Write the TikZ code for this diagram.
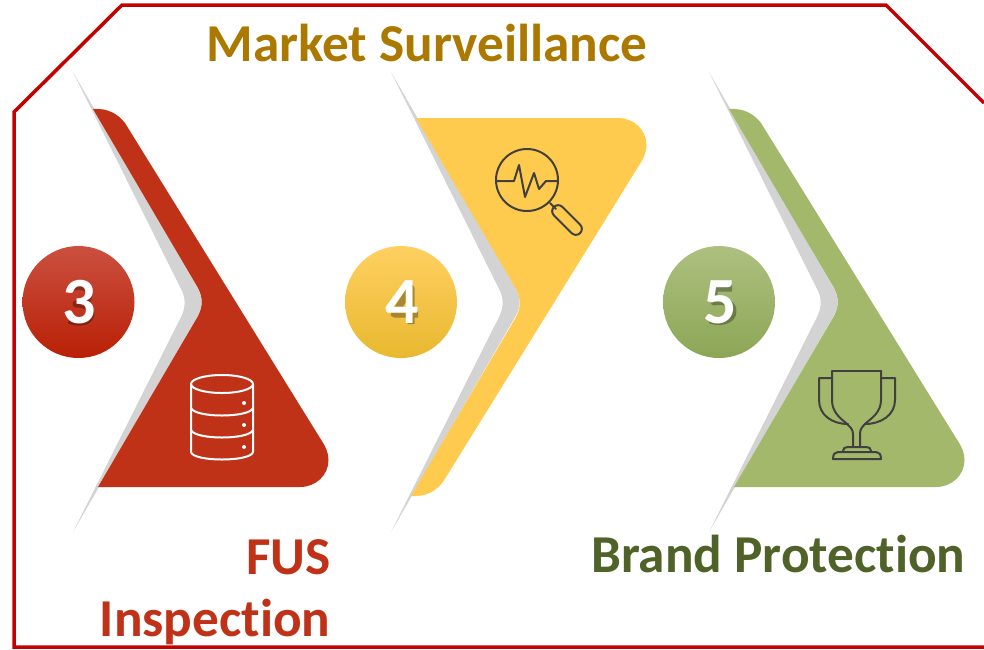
\documentclass[tikz,border=0pt]{standalone}
\usepackage{fontspec}
\setmainfont[Ligatures=NoCommon]{Carlito}
\usetikzlibrary{positioning}
\definecolor{frameRed}{HTML}{C60000}
\definecolor{panelRed}{HTML}{C03218}
\definecolor{panelYellow}{HTML}{FFCB4E}
\definecolor{panelGreen}{HTML}{A4B86C}
\definecolor{chevGray}{HTML}{D3D3D3}
\definecolor{iconGray}{HTML}{404040}
\definecolor{titleGold}{HTML}{AB7800}
\definecolor{titleGreen}{HTML}{4F6228}
\definecolor{redTop}{HTML}{CB5040}
\definecolor{redMid}{HTML}{C8270B}
\definecolor{redLow}{HTML}{B92006}
\definecolor{yellowTop}{HTML}{FFD060}
\definecolor{yellowMid}{HTML}{FDCB40}
\definecolor{yellowLow}{HTML}{E8B830}
\definecolor{greenTop}{HTML}{AEC080}
\definecolor{greenMid}{HTML}{A6BF68}
\definecolor{greenLow}{HTML}{8CA655}
\tikzset{
  every picture/.style={line width=1pt},
  title/.style={font=\bfseries\fontsize{53.3}{60}\selectfont,anchor=base east,inner sep=0pt},
  digit/.style={font=\bfseries\fontsize{66}{70}\selectfont,text=white,inner sep=0pt},
  digitshadow/.style={black,opacity=0.3,line width=7pt,line join=round,shift={(2,2)}},
  badge/.style={circle,minimum size=112pt,inner sep=0pt},
  iconline/.style={line width=2pt,line join=round,line cap=round},
  panel/.pic={
    \fill[pic actions] (93,109) .. controls (108,108) and (118,114) .. (125,123) -- (320,438)
      .. controls (326,447) and (328.5,453) .. (328.5,460) .. controls (328.5,475) and (316,487) .. (300,487)
      -- (98,487) -- (198,316) .. controls (203,306) and (203,298) .. (198,288) -- cycle;
  }
}
\begin{document}
\begin{tikzpicture}[x=1pt,y=-1pt]
\useasboundingbox (0,0) rectangle (984,649);
\draw[frameRed,line width=3.5pt,line join=miter] (984,647) -- (14,647) -- (14,112) -- (122,5) -- (886,5) -- (984,103);
\foreach \x in {0, 318, 636} {
\fill[chevGray,xshift=\x pt] (73,72) -- (197,287) .. controls (203,297) and (203,307) .. (197,317) -- (73,532)
  -- (181,317) .. controls (186,307) and (186,297) .. (180,287) -- cycle;
}
\pic[panelRed] at (0,0) {panel};
\pic[panelYellow,yscale=-1] at (318,605) {panel};
\pic[panelGreen] at (636,0) {panel};

% badges
\node (badge3) at (78.5,302) [badge,top color=redTop,middle color=redMid,bottom color=redLow] {};
\node (badge4) at (401,302) [badge,top color=yellowTop,middle color=yellowMid,bottom color=yellowLow] {};
\node (badge5) at (719,302) [badge,top color=greenTop,middle color=greenMid,bottom color=greenLow] {};
\draw[digitshadow] (69,286) .. controls (76,283) and (88,284) .. (87,293) .. controls (87,299) and (81,302) .. (74,302)
  .. controls (84,302) and (89,306) .. (89,311) .. controls (89,321) and (76,322) .. (67,318);
\draw[digitshadow] (409,322) -- (409,286) -- (392,312) -- (416,312);
\draw[digitshadow] (730,286) -- (712,286) -- (712,300) .. controls (722,298) and (731,301) .. (731,309)
  .. controls (731,320) and (716,321) .. (708,318);
\foreach \n/\x in {3/79, 4/402, 5/720} {
\node (digit\n) [digit] at (\x,302) {\n};
}

% database
\begin{scope}[iconline,white]
\draw (222,384) ellipse [x radius=31,y radius=9];
\draw (191,384) -- (191,452) .. controls (193,462) and (251,462) .. (253,452) -- (253,384);
\draw (191,408) .. controls (195,418) and (249,418) .. (253,408);
\draw (191,430) .. controls (195,440) and (249,440) .. (253,430);
\foreach \y in {403, 425, 447} {
\fill (244,\y) circle (2);
}
\end{scope}

% magnifier
\begin{scope}[iconline,iconGray]
\draw (527,180) circle (31);
\draw (496,181) -- (514,181) -- (519,165) -- (525,197) -- (534,173) -- (539,189) -- (546,181) -- (558,181);
\draw (550,203) -- (556,209);
\draw[rotate around={-45:(567,220)},rounded corners=6] (548.5,214) rectangle (585.5,226);
\end{scope}

% trophy
\begin{scope}[iconline,iconGray]
\draw (832,371) -- (832,400) .. controls (832,412) and (840,418) .. (846,423) .. controls (850,427) and (853,429) .. (853,434) -- (853,447);
\draw (881,371) -- (881,400) .. controls (881,412) and (872,418) .. (866,423) .. controls (862,427) and (860,429) .. (860,434) -- (860,447);
\draw (832,371) -- (881,371);
\draw (832,378) -- (819,378) -- (819,400) .. controls (819,415) and (832,424) .. (848,424);
\draw (881,378) -- (895,378) -- (895,400) .. controls (895,415) and (881,424) .. (865,424);
\draw (843,451) .. controls (843,448) and (845,447) .. (848,447) -- (866,447) .. controls (869,447) and (871,448) .. (871,451);
\draw (833,459) .. controls (833,454) and (835,452) .. (838,452) -- (876,452) .. controls (879,452) and (881,454) .. (881,459) -- cycle;
\end{scope}

% titles
\node (market) at (648,61) [title,text=titleGold] {Market Surveillance};
\node (fus) at (331,574) [title,text=panelRed] {FUS};
\node (inspection) at (331,636) [title,text=panelRed] {Inspection};
\node (brand) at (966,572) [title,text=titleGreen] {Brand Protection};
\end{tikzpicture}
\end{document}
